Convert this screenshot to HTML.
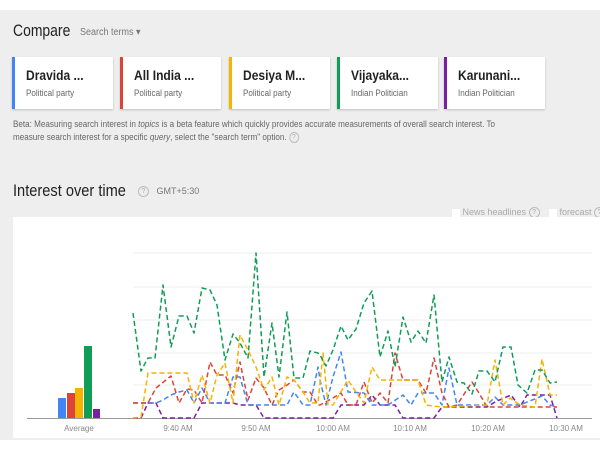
<!DOCTYPE html>
<html><head><meta charset="utf-8"><style>
html,body{margin:0;padding:0;width:600px;height:450px;overflow:hidden;background:#fff;font-family:"Liberation Sans",sans-serif}
.bg{position:absolute;left:0;top:10px;width:600px;height:430px;background:#eeeeee}
.card{position:absolute;top:57px;height:52px;width:98px;background:#fff;box-shadow:0 1px 2px rgba(0,0,0,.2);border-left:3px solid}
.card b{position:absolute;left:11px;top:10px;font-size:14px;color:#222;transform:scaleX(0.86);transform-origin:left}
.card span{position:absolute;left:11px;top:31px;font-size:9px;color:#666;transform:scaleX(0.9);transform-origin:left}
.t{position:absolute;white-space:nowrap;transform-origin:left top}
.q{display:inline-block;width:9px;height:9px;border:1px solid #bbb;border-radius:50%;font-size:7px;color:#aaa;text-align:center;line-height:9px;vertical-align:middle}
</style></head><body>
<div class="bg"></div>
<div class="t" style="left:13px;top:21px;font-size:17px;color:#222;transform:scaleX(0.82)">Compare</div>
<div class="t" style="left:80px;top:27px;font-size:10px;color:#777;transform:scaleX(0.9)">Search terms ▾</div>
<div class="card" style="left:12px;border-color:#4285f4"><b>Dravida ...</b><span>Political party</span></div>
<div class="card" style="left:120px;border-color:#db4437"><b>All India ...</b><span>Political party</span></div>
<div class="card" style="left:229px;border-color:#f4b400"><b>Desiya M...</b><span>Political party</span></div>
<div class="card" style="left:337px;border-color:#0f9d58"><b>Vijayaka...</b><span>Indian Politician</span></div>
<div class="card" style="left:444px;border-color:#7b1fa2"><b>Karunani...</b><span>Indian Politician</span></div>
<div class="t" style="left:13px;top:118px;font-size:9px;color:#666;line-height:13px;transform:scaleX(0.9)">Beta: Measuring search interest in <i>topics</i> is a beta feature which quickly provides accurate measurements of overall search interest. To<br>measure search interest for a specific <i>query</i>, select the "search term" option. <span class="q">?</span></div>
<div class="t" style="left:13px;top:181px;font-size:17px;color:#222;transform:scaleX(0.86)">Interest over time</div>
<div class="t" style="left:138px;top:186px;font-size:9px;color:#777"><span class="q">?</span>&nbsp;&nbsp;&nbsp;GMT+5:30</div>
<div class="t" style="left:452px;top:207px;font-size:9px;color:#aaa"><span style="display:inline-block;width:8px;height:8px;background:#fff;vertical-align:middle"></span> News headlines <span class="q">?</span></div>
<div class="t" style="left:549px;top:207px;font-size:9px;color:#aaa"><span style="display:inline-block;width:8px;height:8px;background:#fff;vertical-align:middle"></span> forecast <span class="q">?</span></div>
<svg style="position:absolute;left:0;top:0" width="600" height="450">
<rect x="13" y="217" width="587" height="221" fill="#fff"/>
<g stroke="#ececec" stroke-width="1">
<line x1="133" x2="592" y1="253" y2="253"/><line x1="133" x2="592" y1="287" y2="287"/><line x1="133" x2="592" y1="320" y2="320"/><line x1="133" x2="592" y1="353" y2="353"/><line x1="133" x2="592" y1="385" y2="385"/>
</g>
<line x1="27" x2="592" y1="418.5" y2="418.5" stroke="#999"/>
<rect x="58" y="398" width="8" height="20" fill="#4285f4"/>
<rect x="67" y="393" width="8" height="25" fill="#db4437"/>
<rect x="75" y="388" width="8" height="30" fill="#f4b400"/>
<rect x="84" y="346" width="8" height="72" fill="#0f9d58"/>
<rect x="93" y="409" width="7" height="9" fill="#7b1fa2"/>
<g fill="none" stroke-width="1.5" stroke-dasharray="5,3" stroke-linejoin="round">
<polyline stroke="#7b1fa2" points="133,418 141,418 148,403 156,403 163,418 194,418 202,403 225,403 233,403 240,405 256,405 264,418 320,418 333,418 341,405 364,405 372,395 380,405 395,405 403,418 434,418 442,407 487,407 495,402 511,395 520,407 527,395 550,395 557,418"/>
<polyline stroke="#4285f4" points="133,403 156,403 163,400 171,395 179,392 187,390 194,403 202,388 210,403 225,403 233,377 240,377 248,405 287,405 294,392 303,405 310,405 318,367 320,380 326,405 333,377 341,352 348,392 364,393 372,405 388,405 403,395 411,405 418,393 434,393 442,405 449,368 457,405 487,405 495,397 503,405 520,405 542,396 550,405 557,407"/>
<polyline stroke="#db4437" points="133,403 141,403 148,403 156,388 171,376 179,403 187,389 194,390 202,403 210,362 217,375 225,375 233,393 240,362 248,400 256,378 264,388 272,405 279,390 287,385 294,380 303,392 310,392 318,405 320,405 333,398 341,393 348,405 356,405 364,382 372,403 380,393 388,403 395,353 403,380 418,380 426,393 434,358 442,393 449,407 457,405 472,382 479,393 487,407 557,407"/>
<polyline stroke="#f4b400" points="133,418 141,417 148,373 187,373 194,403 202,375 210,403 217,375 225,363 233,403 240,335 248,350 256,367 264,390 272,377 279,405 287,377 294,380 303,392 310,403 318,403 323,353 328,405 333,405 348,380 356,392 364,403 372,367 380,380 418,380 426,405 442,407 487,405 495,360 503,405 510,398 520,405 535,407 542,359 550,395 557,395"/>
<polyline stroke="#0f9d58" points="133,313 141,371 148,358 155,358 163,285 171,347 179,316 187,316 194,333 202,288 210,290 217,305 225,360 233,334 240,343 248,358 256,253 264,377 272,323 279,377 287,312 294,378 303,378 310,351 318,353 320,355 326,366 333,350 341,326 348,340 356,329 364,303 372,291 380,357 388,331 395,367 403,317 411,342 418,331 426,343 434,295 442,382 449,357 457,382 464,383 472,394 479,371 487,371 495,382 503,347 511,347 518,385 527,393 535,370 542,370 550,383 557,382"/>
</g>
<g font-size="8" fill="#888" text-anchor="middle" font-family="Liberation Sans,sans-serif">
<text x="79" y="431">Average</text>
<text x="178" y="431">9:40 AM</text>
<text x="256" y="431">9:50 AM</text>
<text x="333" y="431">10:00 AM</text>
<text x="410" y="431">10:10 AM</text>
<text x="488" y="431">10:20 AM</text>
<text x="566" y="431">10:30 AM</text>
</g>
</svg>
</body></html>
